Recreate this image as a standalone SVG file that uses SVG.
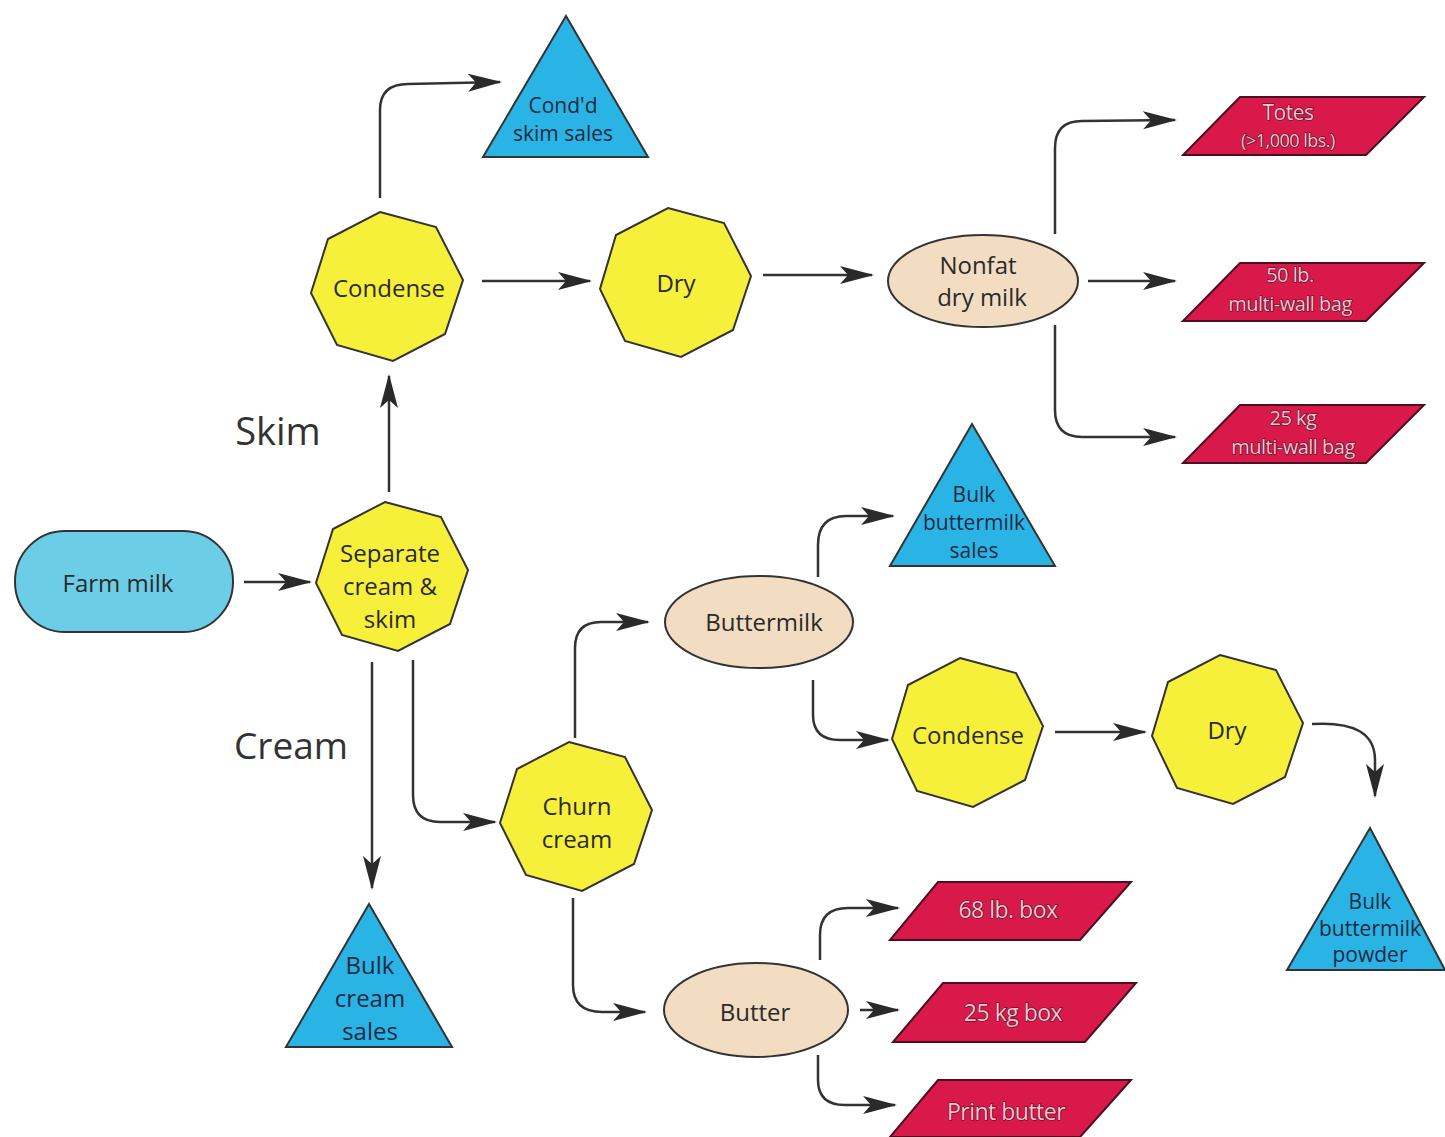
<svg xmlns="http://www.w3.org/2000/svg" width="1445" height="1137" viewBox="0 0 1445 1137">
<style>
.oct{fill:#f7f03a;stroke:#333;stroke-width:2}
.ell{fill:#f2dcc2;stroke:#333;stroke-width:2}
.tri{fill:#2ab4e6;stroke:#333;stroke-width:2}
.par{fill:#d9194a;stroke:#4a1020;stroke-width:2}
.rr{fill:#6ccde6;stroke:#333;stroke-width:2}
.t{font-family:"Open Sans","Noto Sans",sans-serif;fill:#2a2a2a;text-anchor:middle}
.tb{font-family:"Open Sans","Noto Sans",sans-serif;fill:#1a2a40;text-anchor:middle}
.tp{font-family:"Open Sans","Noto Sans",sans-serif;fill:#f4c8d2;stroke:#4a0a1a;stroke-width:1.2;paint-order:stroke;text-anchor:middle;letter-spacing:-0.5px}
.c{fill:none;stroke:#333;stroke-width:2.5}
.lbl{font-family:"Open Sans","Noto Sans",sans-serif;fill:#333}
</style>
<defs>
<marker id="ah" markerUnits="userSpaceOnUse" markerWidth="34" markerHeight="20" refX="32" refY="10" orient="auto">
<path d="M0,1 L34,10 L0,19 L8,10 Z" fill="#2a2a2a"/>
</marker>
</defs>
<rect width="1445" height="1137" fill="#fff"/>

<g id="connectors">
<path class="c" d="M244,582 L310,582" marker-end="url(#ah)"/>
<path class="c" d="M389,492 L389,376" marker-end="url(#ah)"/>
<path class="c" d="M380,198 L380,110 Q380,84 408,84 L500,82" marker-end="url(#ah)"/>
<path class="c" d="M482,281 L590,281" marker-end="url(#ah)"/>
<path class="c" d="M763,275 L872,275" marker-end="url(#ah)"/>
<path class="c" d="M1055,234 L1055,148 Q1055,121 1082,121 L1175,120" marker-end="url(#ah)"/>
<path class="c" d="M1088,281 L1175,281" marker-end="url(#ah)"/>
<path class="c" d="M1055,325 L1055,410 Q1055,437 1082,437 L1175,437" marker-end="url(#ah)"/>
<path class="c" d="M372,662 L372,888" marker-end="url(#ah)"/>
<path class="c" d="M413,660 L413,795 Q413,822 440,822 L495,822" marker-end="url(#ah)"/>
<path class="c" d="M575,738 L575,648 Q575,622 601,622 L648,622" marker-end="url(#ah)"/>
<path class="c" d="M818,577 L818,545 Q818,516 846,516 L893,516" marker-end="url(#ah)"/>
<path class="c" d="M813,680 L813,715 Q813,740 840,740 L888,740" marker-end="url(#ah)"/>
<path class="c" d="M1055,732 L1145,732" marker-end="url(#ah)"/>
<path class="c" d="M1312,724 Q1375,720 1375,760 L1375,796" marker-end="url(#ah)"/>
<path class="c" d="M573,898 L573,985 Q573,1012 602,1012 L645,1012" stroke-width="3.5" marker-end="url(#ah)"/>
<path class="c" d="M820,960 L820,935 Q820,908 848,908 L898,908" marker-end="url(#ah)"/>
<path class="c" d="M860,1010 L898,1010" marker-end="url(#ah)"/>
<path class="c" d="M818,1055 L818,1080 Q818,1105 845,1105 L895,1105" marker-end="url(#ah)"/>
</g>

<text class="lbl" x="278" y="445" font-size="38" text-anchor="middle">Skim</text>
<text class="lbl" x="291" y="759" font-size="37" text-anchor="middle">Cream</text>

<g id="farm-milk">
<rect class="rr" x="15" y="531" width="218" height="101" rx="50"/>
<text class="t" x="118" y="592" font-size="24">Farm milk</text>
</g>

<g id="separate">
<polygon class="oct" points="385,502 441,517 468,570 450,624 398,651 342,635 316,583 333,529"/>
<text class="t" x="390" y="562" font-size="24">Separate</text>
<text class="t" x="390" y="595" font-size="24">cream &amp;</text>
<text class="t" x="390" y="628" font-size="24">skim</text>
</g>

<g id="condense-top">
<polygon class="oct" points="380,212 436,227 463,280 445,334 393,361 337,345 311,293 328,239"/>
<text class="t" x="389" y="297" font-size="24">Condense</text>
</g>

<g id="dry-top">
<polygon class="oct" points="668,208 724,223 751,276 733,330 681,357 625,341 600,289 616,235"/>
<text class="t" x="676" y="292" font-size="24">Dry</text>
</g>

<g id="conds-skim-sales">
<polygon class="tri" points="566,16 648,157 483,157"/>
<text class="tb" x="563" y="113" font-size="21">Cond'd</text>
<text class="tb" x="563" y="141" font-size="21">skim sales</text>
</g>

<g id="nonfat">
<ellipse class="ell" cx="983" cy="281" rx="95" ry="46"/>
<text class="t" x="978" y="274" font-size="24">Nonfat</text>
<text class="t" x="982" y="306" font-size="24">dry milk</text>
</g>

<g id="totes">
<polygon class="par" points="1240,97 1424,97 1366,155 1183,155"/>
<text class="tp" x="1288" y="120" font-size="21">Totes</text>
<text class="tp" x="1288" y="147" font-size="18">(&gt;1,000 lbs.)</text>
</g>

<g id="bag50">
<polygon class="par" points="1240,263 1424,263 1366,321 1183,321"/>
<text class="tp" x="1290" y="282" font-size="20">50 lb.</text>
<text class="tp" x="1290" y="311" font-size="20">multi-wall bag</text>
</g>

<g id="bag25">
<polygon class="par" points="1240,405 1424,405 1366,463 1183,463"/>
<text class="tp" x="1293" y="425" font-size="20">25 kg</text>
<text class="tp" x="1293" y="454" font-size="20">multi-wall bag</text>
</g>

<g id="bulk-buttermilk-sales">
<polygon class="tri" points="972,424 1055,566 890,566"/>
<text class="tb" x="974" y="502" font-size="21">Bulk</text>
<text class="tb" x="974" y="530" font-size="21">buttermilk</text>
<text class="tb" x="974" y="558" font-size="21">sales</text>
</g>

<g id="buttermilk">
<ellipse class="ell" cx="759" cy="622" rx="94" ry="46"/>
<text class="t" x="764" y="631" font-size="24">Buttermilk</text>
</g>

<g id="condense-low">
<polygon class="oct" points="960,658 1016,673 1043,726 1025,780 973,807 917,791 892,739 908,685"/>
<text class="t" x="968" y="744" font-size="24">Condense</text>
</g>

<g id="dry-low">
<polygon class="oct" points="1220,655 1276,670 1303,723 1285,777 1233,804 1177,788 1152,736 1168,682"/>
<text class="t" x="1227" y="739" font-size="24">Dry</text>
</g>

<g id="bulk-buttermilk-powder">
<polygon class="tri" points="1370,828 1445,970 1287,970"/>
<text class="tb" x="1370" y="909" font-size="21">Bulk</text>
<text class="tb" x="1370" y="936" font-size="21">buttermilk</text>
<text class="tb" x="1370" y="962" font-size="21">powder</text>
</g>

<g id="churn">
<polygon class="oct" points="569,742 625,757 652,810 634,864 582,891 526,875 500,823 517,769"/>
<text class="t" x="577" y="815" font-size="24">Churn</text>
<text class="t" x="577" y="848" font-size="24">cream</text>
</g>

<g id="bulk-cream-sales">
<polygon class="tri" points="369,904 452,1047 286,1047"/>
<text class="tb" x="370" y="974" font-size="24">Bulk</text>
<text class="tb" x="370" y="1007" font-size="24">cream</text>
<text class="tb" x="370" y="1040" font-size="24">sales</text>
</g>

<g id="butter">
<ellipse class="ell" cx="756" cy="1010" rx="92" ry="47"/>
<text class="t" x="755" y="1021" font-size="24">Butter</text>
</g>

<g id="box68">
<polygon class="par" points="938,882 1131,882 1080,940 890,940"/>
<text class="tp" x="1008" y="918" font-size="23">68 lb. box</text>
</g>

<g id="box25">
<polygon class="par" points="943,983 1136,983 1085,1042 893,1042"/>
<text class="tp" x="1013" y="1021" font-size="23">25 kg box</text>
</g>

<g id="print-butter">
<polygon class="par" points="938,1080 1131,1080 1080,1137 890,1137"/>
<text class="tp" x="1006" y="1120" font-size="23">Print butter</text>
</g>
</svg>
